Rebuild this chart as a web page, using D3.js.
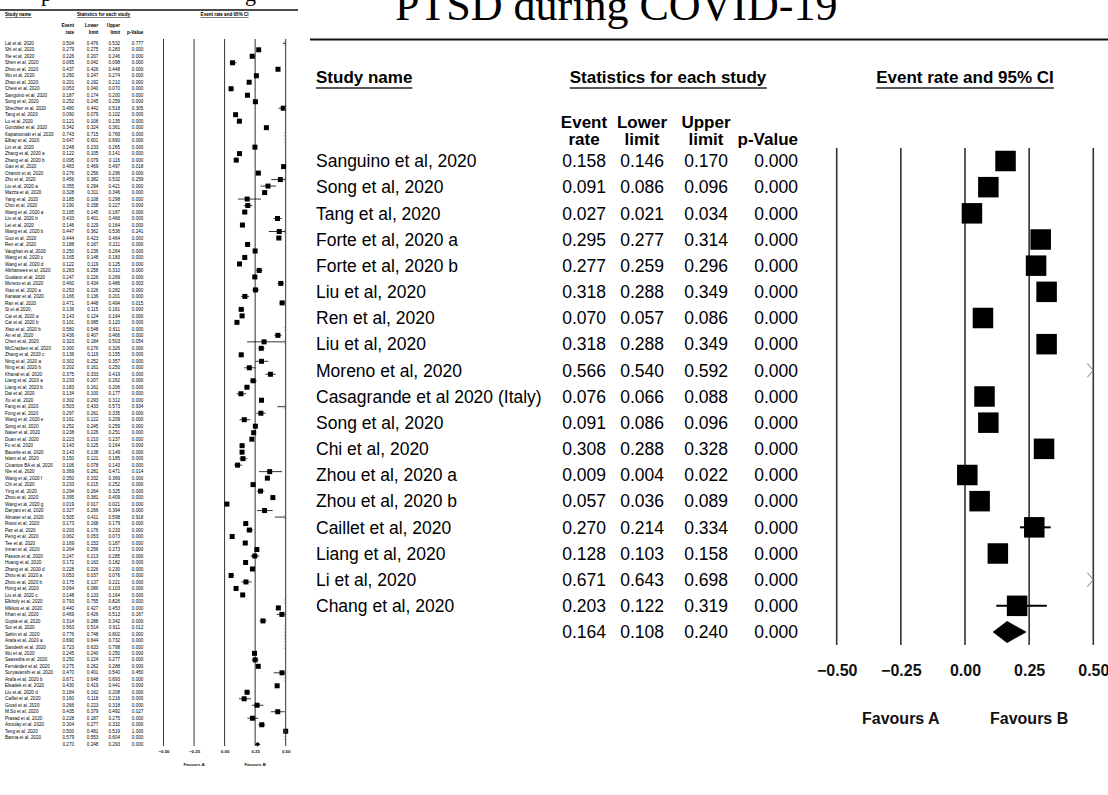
<!DOCTYPE html>
<html>
<head>
<meta charset="utf-8">
<script src="https://cdn.jsdelivr.net/npm/d3@7"></script>
<style>
  body { margin: 0; background: #fff; }
  svg { display: block; font-family: "Liberation Sans", Arial, sans-serif; }
</style>
</head>
<body>
<script>
// ---- left panel: all studies (small) ----
const leftStudies = ["Lai et al, 2020","Shi et al, 2020","Xie et al, 2020","Shen et al, 2020","Zhou et al, 2020","Wu et al, 2020","Zhao et al, 2020","Chew et al, 2020","Sanguino et al, 2020","Song et al, 2020",
  "Shechter et al, 2020","Tang et al, 2020","Lu et al, 2020","González et al, 2020","Kaparounaki et al, 2020","Elbay et al, 2020","Lin et al, 2020","Zhang et al, 2020 a","Zhang et al,   2020 b","Gao et al, 2020",
  "Ozamiz et al, 2020","Zhu et al, 2020","Liu et al, 2020 a","Mazza et al, 2020","Yang et al, 2020","Choi et al, 2020","Wang et al, 2020 a","Liu et al, 2020 b","Lei et al, 2020","Wang et al,  2020 b",
  "Guo et al, 2020","Ren et al, 2020","Vaughan et al, 2020","Wang et al, 2020 c","Wang et al, 2020 d","Alkhamees et al, 2020","Gualano et al, 2020","Moreno et al, 2020","Xiao et al, 2020 a","Karasar et al, 2020",
  "Ran et al, 2020","Si et al 2020,","Cai et al, 2020 a","Cai et al, 2020 b","Xiao et al, 2020 b","An et al, 2020","Chen et al, 2020","McCracken et al, 2020","Zhang et al, 2020 c","Ning et al, 2020 a",
  "Ning et al, 2020 b","Khanal et al, 2020","Liang et al, 2020 a","Liang et al, 2020 b","Dai et al, 2020","Xu et al, 2020","Fang et al, 2020","Fong et al, 2020","Wang et al, 2020 e","Song et al, 2020",
  "Naser et al, 2020","Duan et al, 2020","Fu et al, 2020","Bauerle et al, 2020","Islam et al, 2020","Civantos BA et al, 2020","Nie et al, 2020","Wang et al, 2020 f","Chi et al, 2020","Ying et al, 2020",
  "Zhou et al, 2020","Wang et al, 2020 g","Daryani  et al, 2020","Almater et al, 2020","Rossi et al, 2020","Paz et al, 2020","Peng  et al, 2020","Tee et al, 2020","Imran et al, 2020","Passos et al, 2020",
  "Huang et al, 2020","Zhang et al, 2020 d","Zhou et al, 2020 a","Zhou et al, 2020 b","Hong et al, 2020","Liu et al, 2020 c","Elkholy et al, 2020","Mikkos et al, 2020","Khan et al, 2020","Gupta et al, 2020",
  "Sut et al, 2020","Sahin et al, 2020","Arafa et al, 2020 a","Sandesh et al, 2020","Wu et al, 2020","Saavedra et al, 2020","Fernández et al, 2020","Suryavanshi et al, 2020","Arafa et al, 2020 b","Elsadek et al, 2020",
  "Liu et al, 2020 d","Caillet et al, 2020","Giusti et al, 2020","M.So et al, 2020","Prasad et al, 2020","Azoulay et al, 2020","Teng et al, 2020","Banna et al, 2020"];
const leftRate = [0.504,0.279,0.226,0.065,0.437,0.260,0.201,0.053,0.187,0.252,
  0.480,0.090,0.121,0.342,0.743,0.647,0.248,0.122,0.095,0.483,
  0.276,0.456,0.355,0.328,0.185,0.190,0.165,0.433,0.146,0.447,
  0.444,0.188,0.250,0.165,0.122,0.283,0.247,0.460,0.253,0.166,
  0.471,0.136,0.143,0.101,0.580,0.436,0.323,0.300,0.136,0.302,
  0.202,0.375,0.233,0.183,0.134,0.302,0.503,0.297,0.161,0.252,
  0.238,0.223,0.143,0.143,0.150,0.106,0.369,0.350,0.233,0.294,
  0.395,0.019,0.327,0.505,0.173,0.203,0.062,0.169,0.264,0.247,
  0.172,0.228,0.053,0.175,0.094,0.148,0.793,0.440,0.469,0.314,
  0.563,0.776,0.690,0.723,0.245,0.250,0.275,0.470,0.671,0.430,
  0.184,0.160,0.266,0.435,0.228,0.304,0.500,0.579];
const leftLower = [0.476,0.275,0.207,0.042,0.426,0.247,0.192,0.040,0.174,0.245,
  0.442,0.079,0.108,0.324,0.715,0.601,0.233,0.105,0.079,0.469,
  0.256,0.382,0.294,0.311,0.108,0.158,0.145,0.401,0.129,0.362,
  0.423,0.167,0.236,0.148,0.119,0.258,0.226,0.434,0.226,0.136,
  0.448,0.115,0.124,0.085,0.548,0.407,0.184,0.276,0.119,0.252,
  0.161,0.333,0.207,0.161,0.100,0.293,0.433,0.261,0.122,0.245,
  0.226,0.210,0.125,0.138,0.121,0.078,0.281,0.332,0.215,0.264,
  0.381,0.017,0.266,0.411,0.168,0.176,0.053,0.153,0.256,0.213,
  0.163,0.226,0.037,0.137,0.086,0.133,0.755,0.427,0.426,0.288,
  0.514,0.748,0.644,0.633,0.240,0.224,0.262,0.401,0.648,0.419,
  0.162,0.118,0.223,0.379,0.187,0.277,0.481,0.553];
const leftUpper = [0.532,0.283,0.246,0.098,0.448,0.274,0.210,0.070,0.200,0.259,
  0.518,0.102,0.135,0.361,0.769,0.690,0.265,0.141,0.116,0.497,
  0.296,0.532,0.421,0.346,0.298,0.227,0.187,0.466,0.164,0.536,
  0.464,0.211,0.264,0.183,0.125,0.310,0.269,0.486,0.282,0.201,
  0.494,0.161,0.164,0.120,0.611,0.466,0.503,0.326,0.155,0.357,
  0.250,0.419,0.262,0.206,0.177,0.312,0.573,0.335,0.209,0.259,
  0.251,0.237,0.164,0.149,0.185,0.143,0.471,0.369,0.252,0.325,
  0.409,0.021,0.394,0.598,0.179,0.233,0.073,0.187,0.273,0.285,
  0.182,0.230,0.076,0.221,0.103,0.164,0.826,0.453,0.513,0.342,
  0.611,0.802,0.732,0.798,0.250,0.277,0.288,0.540,0.693,0.441,
  0.208,0.216,0.318,0.492,0.275,0.332,0.519,0.604];
const leftP = [0.777,0,0,0,0,0,0,0,0,0,
  0.305,0,0,0,0,0,0,0,0,0.018,
  0,0.259,0,0,0,0,0,0,0,0.241,
  0,0,0,0,0,0,0,0.003,0,0,
  0.015,0,0,0,0,0,0.054,0,0,0,
  0,0,0,0,0,0,0.934,0,0,0,
  0,0,0,0,0,0,0.014,0,0,0,
  0,0,0,0.918,0,0,0,0,0,0,
  0,0,0,0,0,0,0,0,0.167,0,
  0.012,0,0,0,0,0,0,0.450,0,0,
  0,0,0,0.027,0,0,1.000,0];
const leftPooled = [0.270, 0.248, 0.293, 0.000];

// ---- right panel: PTSD during COVID-19 ----
const rightStudies = ["Sanguino et al, 2020","Song et al, 2020","Tang et al, 2020","Forte et al, 2020 a","Forte et al,  2020 b","Liu et al,  2020",
  "Ren et al, 2020","Liu et al, 2020","Moreno et al, 2020","Casagrande et al 2020 (Italy)","Song et al, 2020","Chi et al, 2020",
  "Zhou et al, 2020 a","Zhou et al, 2020 b","Caillet et al, 2020","Liang et al, 2020","Li et al, 2020","Chang et al, 2020"];
const rightRate  = [0.158,0.091,0.027,0.295,0.277,0.318,0.070,0.318,0.566,0.076,0.091,0.308,0.009,0.057,0.270,0.128,0.671,0.203];
const rightLower = [0.146,0.086,0.021,0.277,0.259,0.288,0.057,0.288,0.540,0.066,0.086,0.288,0.004,0.036,0.214,0.103,0.643,0.122];
const rightUpper = [0.170,0.096,0.034,0.314,0.296,0.349,0.086,0.349,0.592,0.088,0.096,0.328,0.022,0.089,0.334,0.158,0.698,0.319];
const rightP     = [0,0,0,0,0,0,0,0,0,0,0,0,0,0,0,0,0,0];
const rightPooled = [0.164, 0.108, 0.240, 0.000];

const axisTicks = [-0.5, -0.25, 0, 0.25, 0.5];
const favours = ["Favours A", "Favours B"];
const colHeads = [["Event", "rate"], ["Lower", "limit"], ["Upper", "limit"], ["", "p-Value"]];

const width = 1108, height = 795;
const svg = d3.select("body").append("svg")
    .attr("width", width).attr("height", height)
    .attr("xml:space", "preserve");
svg.append("rect").attr("width", width).attr("height", height).attr("fill", "#fff");

function drawForest(g, o) {
    const n = o.names.length;
    const x = d3.scaleLinear().domain([-0.5, 0.5]).range(o.xRange);
    const y = d3.scalePoint().domain(d3.range(n + 1)).range([o.rowTop, o.rowBottom]);
    const fmt = d3.format(".3f");

    // underlined headers
    [{t: "Study name", x: o.nameX, a: "start"},
     {t: "Statistics for each study", x: o.statsX, a: "middle"},
     {t: "Event rate and 95% CI", x: x(0), a: "middle"}].forEach(h => {
        const t = g.append("text").attr("x", h.x).attr("y", o.headY)
            .attr("text-anchor", h.a).attr("font-size", o.headSize)
            .attr("font-weight", "bold").text(h.t);
        const b = t.node().getBBox();
        g.append("line").attr("x1", b.x).attr("x2", b.x + b.width)
            .attr("y1", o.headY + o.ulGap).attr("y2", o.headY + o.ulGap)
            .attr("stroke", "#222").attr("stroke-width", o.ulW);
    });

    // column headers
    colHeads.forEach((c, k) => c.forEach((s, j) => {
        g.append("text").attr("x", o.headX[k]).attr("y", o.colHeadY[j])
            .attr("text-anchor", o.headAnchor[k]).attr("font-size", o.headSize)
            .attr("font-weight", "bold").text(s);
    }));

    // table rows
    const rows = o.names.map((name, i) => [name, o.rate[i], o.lower[i], o.upper[i], o.p[i]]);
    rows.push([""].concat(o.pooled));
    rows.forEach((r, i) => {
        g.append("text").attr("x", o.nameX).attr("y", y(i)).attr("dy", "0.36em")
            .attr("font-size", o.font).text(r[0]);
        for (let k = 0; k < 4; k++) {
            g.append("text").attr("x", o.cols[k]).attr("y", y(i)).attr("dy", "0.36em")
                .attr("text-anchor", "end").attr("font-size", o.font).text(fmt(r[k + 1]));
        }
    });

    // vertical reference lines
    g.selectAll(null).data(axisTicks).join("line")
        .attr("x1", d => x(d)).attr("x2", d => x(d))
        .attr("y1", o.lineTop).attr("y2", o.lineBottom)
        .attr("stroke", "#333").attr("stroke-width", o.gridW);

    // tick labels
    const ax = g.append("g").attr("transform", `translate(0,${o.tickY})`)
        .call(d3.axisBottom(x).tickValues(axisTicks).tickFormat(d3.format(".2f")).tickSize(0).tickPadding(0));
    ax.select(".domain").remove();
    ax.selectAll("text").attr("dy", "0.36em").attr("font-size", o.tickSize)
        .attr("font-weight", "bold").attr("fill", "#111")
        .attr("font-family", "'Liberation Sans', Arial, sans-serif");

    g.selectAll(null).data(favours).join("text")
        .attr("x", (d, i) => x(i ? 0.25 : -0.25)).attr("y", o.favY).attr("dy", "0.36em")
        .attr("text-anchor", "middle").attr("font-size", o.tickSize)
        .attr("font-weight", "bold").attr("fill", "#111").text(d => d);

    // study markers
    const [lo, hi] = x.domain();
    o.names.forEach((name, i) => {
        const cy = y(i);
        const l = Math.max(o.lower[i], lo), u = Math.min(o.upper[i], hi);
        if (l < hi) {
            g.append("line").attr("x1", x(l)).attr("x2", x(u)).attr("y1", cy).attr("y2", cy)
                .attr("stroke", "#000").attr("stroke-width", o.ciW);
        }
        if (o.rate[i] <= hi) {
            g.append("rect").attr("x", x(o.rate[i]) - o.box / 2).attr("y", cy - o.box / 2)
                .attr("width", o.box).attr("height", o.box).attr("fill", "#000");
        }
        if (o.upper[i] > hi) {
            const xe = x(hi);
            g.append("path")
                .attr("d", `M${xe - o.arrow[0]},${cy - o.arrow[1]}L${xe},${cy}L${xe - o.arrow[0]},${cy + o.arrow[1]}`)
                .attr("fill", "none").attr("stroke", "#777").attr("stroke-width", o.arrowW);
        }
    });

    // pooled diamond
    const py = y(n), [pr, pl, pu] = o.pooled;
    g.append("path")
        .attr("d", `M${x(pl)},${py}L${x(pr)},${py - o.diamond / 2}L${x(pu)},${py}L${x(pr)},${py + o.diamond / 2}Z`)
        .attr("fill", "#000");
}

// left panel: cut-off title and rule
svg.append("text").attr("x", 41).attr("y", 1).attr("font-size", 22)
    .attr("font-family", "'Liberation Serif', 'Times New Roman', serif").text("p");
svg.append("text").attr("x", 245).attr("y", 1).attr("font-size", 22)
    .attr("font-family", "'Liberation Serif', 'Times New Roman', serif").text("g");
svg.append("line").attr("x1", 0).attr("x2", 298).attr("y1", 10).attr("y2", 10)
    .attr("stroke", "#111").attr("stroke-width", 1.5);

drawForest(svg.append("g"), {
    names: leftStudies, rate: leftRate, lower: leftLower, upper: leftUpper, p: leftP, pooled: leftPooled,
    nameX: 5, statsX: 103.5, cols: [74, 98.3, 120, 143.3],
    headX: [74, 98.3, 120, 143.3], headAnchor: ["end", "end", "end", "end"],
    headY: 16, ulGap: 1.5, ulW: 0.6, headSize: 4.6, colHeadY: [27.3, 33.9],
    rowTop: 43.3, rowBottom: 744.2, font: 4.6,
    xRange: [163.5, 285.7], lineTop: 39, lineBottom: 746, gridW: 1,
    tickY: 751, favY: 764, tickSize: 4.4,
    box: 5, ciW: 0.8, diamond: 4.5, arrow: [1.5, 2], arrowW: 0.6
});

// right panel: title and rule
svg.append("text").attr("x", 395).attr("y", 20).attr("font-size", 44)
    .attr("font-family", "'Liberation Serif', 'Times New Roman', serif").text("PTSD during COVID-19");
svg.append("line").attr("x1", 310).attr("x2", 1108).attr("y1", 39.5).attr("y2", 39.5)
    .attr("stroke", "#111").attr("stroke-width", 2);

drawForest(svg.append("g"), {
    names: rightStudies, rate: rightRate, lower: rightLower, upper: rightUpper, p: rightP, pooled: rightPooled,
    nameX: 316, statsX: 668, cols: [606, 664, 728, 798],
    headX: [584, 642, 706, 798], headAnchor: ["middle", "middle", "middle", "end"],
    headY: 83, ulGap: 5, ulW: 1.5, headSize: 17, colHeadY: [128, 145],
    rowTop: 161, rowBottom: 632, font: 17.5,
    xRange: [836.7, 1093.3], lineTop: 148, lineBottom: 645, gridW: 1.6,
    tickY: 670, favY: 718, tickSize: 16,
    box: 20.5, ciW: 2, diamond: 22, arrow: [6, 7], arrowW: 1
});
</script>
</body>
</html>
